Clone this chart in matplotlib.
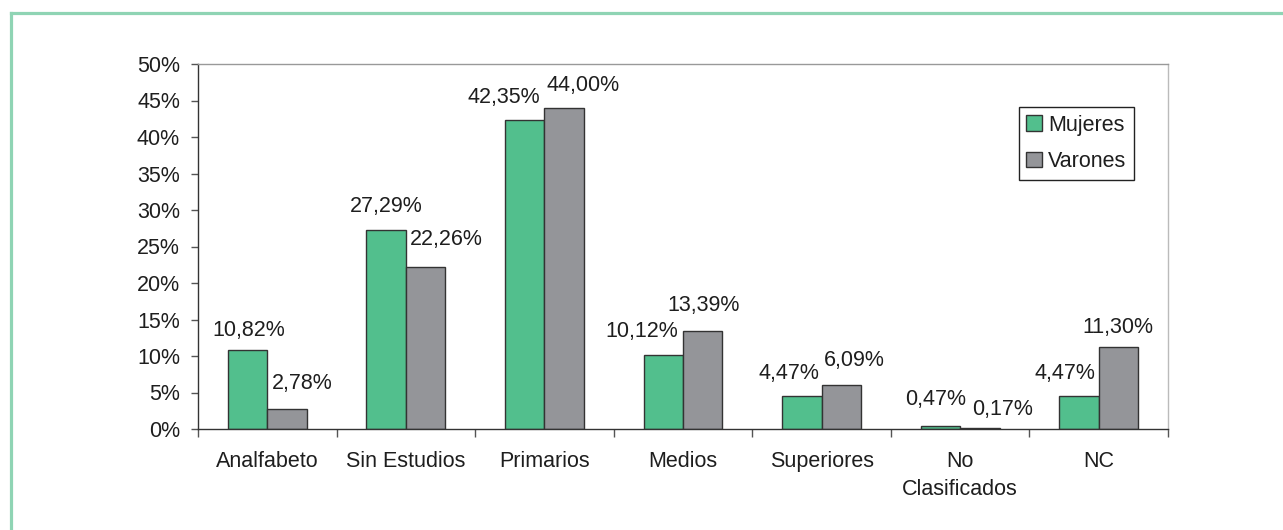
import matplotlib
matplotlib.use("Agg")
import matplotlib.pyplot as plt
from matplotlib.lines import Line2D
import numpy as np

plt.rcParams["font.family"] = ["Liberation Sans", "DejaVu Sans"]

categories = ["Analfabeto", "Sin Estudios", "Primarios", "Medios",
              "Superiores", "No\nClasificados", "NC"]
mujeres = [10.82, 27.29, 42.35, 10.12, 4.47, 0.47, 4.47]
varones = [2.78, 22.26, 44.00, 13.39, 6.09, 0.17, 11.30]
y_ticks = [0, 5, 10, 15, 20, 25, 30, 35, 40, 45, 50]

# label nudges in pixels (dx from bar centre, dy of baseline above bar top)
mujeres_nudge = [(1, 14), (0, 18), (-21, 17), (-22, 18), (-13, 17), (-5, 21), (-14, 17)]
varones_nudge = [(15, 20), (21, 22), (19, 17), (1, 20), (13, 19), (23, 13), (-1, 14)]

GREEN = "#52bf8d"
GREY = "#949599"
EDGE = "#333333"
FRAME = "#8fd4b4"
TEXT = "#1e1e1e"
FS = 15.5


def pct(v):
    return f"{v:.2f}".replace(".", ",") + "%"


fig = plt.figure(figsize=(12.83, 5.30), dpi=100)
ax = fig.add_axes([198 / 1283, 101 / 530, 970 / 1283, 365 / 530])

x = np.arange(len(categories))
w = 0.285
bars_m = ax.bar(x - w / 2, mujeres, w, color=GREEN, edgecolor=EDGE,
                linewidth=1.0, label="Mujeres", zorder=2)
bars_v = ax.bar(x + w / 2, varones, w, color=GREY, edgecolor=EDGE,
                linewidth=1.0, label="Varones", zorder=2)

for bars, vals, nudge in ((bars_m, mujeres, mujeres_nudge),
                          (bars_v, varones, varones_nudge)):
    for b, v, (dx, dy) in zip(bars, vals, nudge):
        ax.annotate(pct(v), xy=(b.get_x() + b.get_width() / 2, v),
                    xytext=(dx, dy), textcoords="offset pixels",
                    ha="center", va="baseline", fontsize=FS, color=TEXT)

ax.set_xlim(-0.5, len(categories) - 0.5)
ax.set_ylim(0, 50)
ax.set_yticks(y_ticks)
ax.set_yticklabels([f"{t}%" for t in y_ticks])
ax.tick_params(axis="y", direction="out", length=5, width=1, color="#555555",
               pad=8, labelsize=FS, labelcolor=TEXT)

# category boundaries carry the tick marks, centres carry the labels
ax.set_xticks(np.arange(len(categories) + 1) - 0.5)
ax.set_xticklabels([])
ax.tick_params(axis="x", which="major", direction="out", length=6, width=1,
               color="#555555")
ax.set_xticks(x, minor=True)
ax.set_xticklabels(categories, minor=True, fontsize=FS, color=TEXT,
                   linespacing=1.45)
ax.tick_params(axis="x", which="minor", length=0, pad=16)

ax.spines["left"].set_color("#333333")
ax.spines["bottom"].set_color("#333333")
ax.spines["top"].set_color("#999999")
ax.spines["right"].set_color("#bbbbbb")
for s in ax.spines.values():
    s.set_linewidth(1.0)

leg = ax.legend(loc="upper right", bbox_to_anchor=(0.965, 0.882),
                borderaxespad=0, fontsize=FS, fancybox=False, framealpha=1,
                edgecolor="#222222", handlelength=0.74, handleheight=0.74,
                handletextpad=0.28, labelspacing=0.72, borderpad=0.35)
leg.get_frame().set_linewidth(1.0)
for t in leg.get_texts():
    t.set_color(TEXT)

# outer decorative frame
fig.add_artist(Line2D([11 / 1283, 11 / 1283], [0, 1 - 12.5 / 530],
                      color=FRAME, linewidth=2.3, transform=fig.transFigure))
fig.add_artist(Line2D([11 / 1283, 1], [1 - 12.5 / 530, 1 - 12.5 / 530],
                      color=FRAME, linewidth=2.3, transform=fig.transFigure))

fig.savefig("out.png", dpi=100)
